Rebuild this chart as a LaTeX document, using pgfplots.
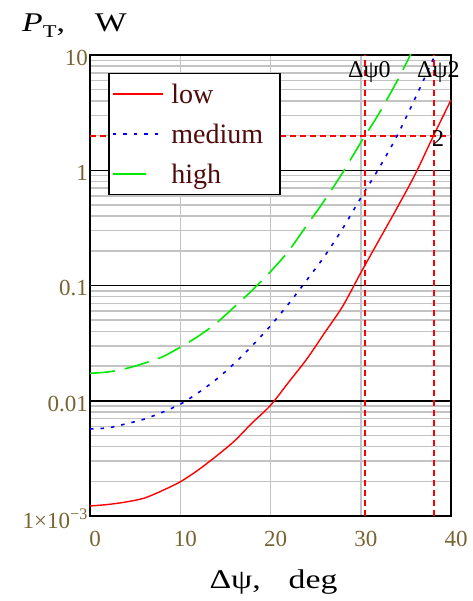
\documentclass[border=0pt]{standalone}
\usepackage{fontspec}
\setmainfont{Liberation Serif}
\newfontfamily\widefont[FakeStretch=1.25]{Liberation Serif}
\usepackage{pgfplots}
\pgfplotsset{compat=1.18}
\definecolor{tickc}{RGB}{120,100,50}
\definecolor{legc}{RGB}{80,10,10}
\definecolor{gridc}{RGB}{195,195,195}
\definecolor{mgreen}{RGB}{0,235,0}
\definecolor{mblue}{RGB}{0,0,235}
\definecolor{mred}{RGB}{255,0,0}
\pgfplotsset{
  longleg/.style={legend image code/.code={\draw[##1] (0pt,0pt) -- (50pt,0pt);}},
  shortleg/.style={legend image code/.code={\draw[##1, solid] (0pt,0pt) -- (33pt,0pt);}},
}
\begin{document}
\begin{tikzpicture}
\begin{axis}[name=ax, scale only axis, width=361pt, height=461pt,
  ymode=log, xmin=0, xmax=40, ymin=0.001, ymax=10,
  xtick={0,10,20,30,40}, ytick={0.001,0.01,0.1,1,10},
  yticklabels={1×10\textsuperscript{−3},0.01,0.1,1,10},
  major tick length=0pt, minor tick length=0pt,
  xmajorgrids, ymajorgrids, yminorgrids,
  major x grid style={gridc, line width=1.5pt},
  major y grid style={black, line width=1.5pt},
  minor y grid style={gridc, line width=1.5pt},
  axis line style={line width=1.5pt},
  tick label style={font=\fontsize{23}{23}\selectfont, text=tickc},
  /pgf/number format/assume math mode=true,
  xticklabel style={xshift=5pt, yshift=-12pt},
  yticklabel style={yshift=-3pt, inner sep=2pt},
  legend style={at={(0.05,0.961)}, anchor=north west, draw=black, line width=1.5pt,
    fill=white, font=\fontsize{28}{28}\selectfont, text=legc,
    inner xsep=3pt, inner ysep=8pt, row sep=15pt,
    /tikz/every odd column/.append style={column sep=6pt}},
  legend cell align=left,
  longleg,
]
\addplot[mred, line width=1.4pt, smooth] coordinates {
(0,0.001222) (2,0.001259) (4,0.001324) (6,0.001429) (8,0.00166) (10,0.00198)
(12,0.00251) (14,0.00331) (16,0.00447) (18,0.00646) (20,0.00912) (22,0.01445)
(24,0.0229) (26,0.0389) (28,0.0661) (30,0.1288) (32,0.2455) (34,0.4677)
(36,0.912) (38,1.95) (40,4.07)};
\addlegendentry{low}
\addplot[mblue, line width=1.6pt, dash pattern=on 3.5pt off 7pt, smooth] coordinates {
(0,0.00569) (2,0.00582) (4,0.00631) (6,0.00692) (8,0.00794) (10,0.00933)
(12,0.01175) (14,0.01535) (16,0.0211) (18,0.0302) (20,0.0447) (22,0.0692)
(24,0.1109) (26,0.180) (28,0.3126) (30,0.575) (32,1.035) (34,1.972)
(36,4.17) (38,9.12) (39,13.8)};
\addlegendentry{medium\hspace*{12pt}}
\addplot[mgreen, line width=1.6pt, dash pattern=on 25pt off 10pt, smooth, shortleg] coordinates {
(0,0.0173) (2,0.01778) (4,0.01905) (6,0.02113) (8,0.0240) (10,0.02917)
(12,0.0363) (14,0.0472) (16,0.0653) (18,0.0912) (20,0.1318) (22,0.1995)
(24,0.331) (26,0.550) (28,0.955) (30,1.738) (32,3.09) (34,5.89) (36,12.0)};
\addlegendentry{high}
\addplot[mred, line width=2pt, dash pattern=on 6pt off 4pt, forget plot] coordinates {(30.47,0.001) (30.47,10)};
\addplot[mred, line width=2pt, dash pattern=on 6pt off 4pt, forget plot] coordinates {(38.15,0.001) (38.15,10)};
\addplot[mred, line width=2pt, dash pattern=on 6pt off 4pt, forget plot] coordinates {(0,2) (40,2)};
\end{axis}
\node[anchor=base west, font=\widefont\fontsize{27}{27}\selectfont, inner sep=0pt] at ([shift={(-68pt,484pt)}]ax.south west)
  {\textit{P}\raisebox{-0.22em}{\fontsize{18}{18}\selectfont T},\hspace{30pt}W};
\node[anchor=base, font=\widefont\fontsize{27}{27}\selectfont, inner sep=0pt] at ([shift={(183.5pt,-72pt)}]ax.south west)
  {Δψ,\hspace{28pt}deg};
\node[anchor=base west, font=\fontsize{24}{24}\selectfont, inner sep=0pt] at ([shift={(258pt,438pt)}]ax.south west) {Δψ0};
\node[anchor=base west, font=\fontsize{24}{24}\selectfont, inner sep=0pt] at ([shift={(327pt,438pt)}]ax.south west) {Δψ2};
\node[anchor=base west, font=\fontsize{24}{24}\selectfont, inner sep=0pt] at ([shift={(342pt,369pt)}]ax.south west) {2};
\pgfresetboundingbox
\path[use as bounding box] ([shift={(-90pt,-85pt)}]ax.south west) rectangle ([shift={(21pt,55pt)}]ax.north east);
\end{tikzpicture}
\end{document}
